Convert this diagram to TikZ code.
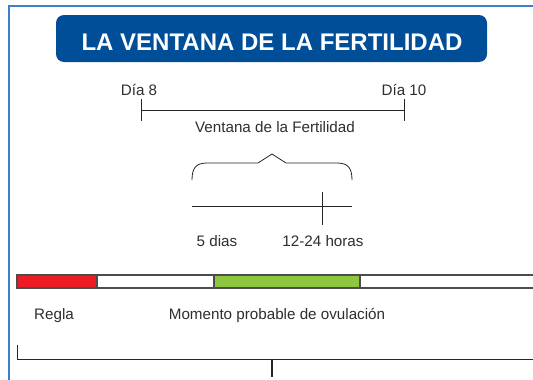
\documentclass[tikz,border=0pt]{standalone}
\usepackage{fontspec}
\setmainfont{Liberation Sans}
\usepackage{xcolor}
\definecolor{vfblue}{HTML}{004E98}
\definecolor{vfframe}{HTML}{3B7DD0}
\definecolor{vfred}{HTML}{ED1C24}
\definecolor{vfgreen}{HTML}{8DC63F}
\definecolor{vftext}{HTML}{2E2E2E}
\usetikzlibrary{positioning,calc}

\begin{document}
\begin{tikzpicture}[x=1pt,y=-1pt,
  lbl/.style={text=vftext,font=\fontsize{15.2}{18}\selectfont,inner sep=0pt,anchor=base},
  rule/.style={draw=black!85,line width=0.9pt},
  seg/.style={draw=black!70,line width=1.2pt}]
\useasboundingbox (0,0) rectangle (533,380);
% marco
\draw[vfframe,line width=1.5pt] (9,381) -- (9,6) -- (534,6);
% titulo
\node[fill=vfblue,rounded corners=8pt,minimum width=431pt,minimum height=47pt,inner sep=0pt] (title) at (271.5,38.5) {};
\node[text=white,font=\bfseries\fontsize{24}{28}\selectfont,inner sep=0pt,anchor=base] (titletext) at (272,50) {LA VENTANA DE LA FERTILIDAD};

% ventana de dias
\node[lbl] (dia8) at (139,95) {Día 8};
\node[lbl] (dia10) at (404,95) {Día 10};
\coordinate (d8) at (141,110);
\coordinate (d10) at (404,110);
\draw[rule] (d8) -- (d10);
\draw[rule] ($(d8)+(0,-11)$) -- ($(d8)+(0,11)$);
\draw[rule] ($(d10)+(0,-11)$) -- ($(d10)+(0,11)$);
\node[lbl] (ventana) at (275,132) {Ventana de la Fertilidad};

% llave
\draw[rule,line width=0.8pt] (192,180) .. controls (192,168) and (196,163) .. (207,163)
  -- (258,163) -- (272,154) -- (286,163) -- (337,163)
  .. controls (348,163) and (352,168) .. (352,180);

% dias y horas
\coordinate (d5) at (192,206);
\coordinate (dend) at (352,206);
\coordinate (h12) at (322,206);
\draw[rule] (d5) -- (dend);
\draw[rule] ($(h12)+(0,-14)$) -- ($(h12)+(0,19)$);
\node[lbl] (cinco) at (217,246) {5 dias};
\node[lbl] (horas) at (323,246) {12-24 horas};

% barra del ciclo
\path[seg,fill=vfred] (17,275) rectangle (97,288);
\path[seg,fill=white] (97,275) rectangle (214,288);
\path[seg,fill=vfgreen] (214,275) rectangle (360,288);
\path[seg,fill=white] (360,275) rectangle (540,288);
\node[lbl] (regla) at (54,319) {Regla};
\node[lbl] (momento) at (277,319) {Momento probable de ovulación};

% corchete inferior
\coordinate (bl) at (17,359);
\coordinate (bm) at (272,359);
\draw[rule] ($(bl)+(0,-14)$) -- (bl) -- (540,359);
\draw[rule,line width=1.6pt] (bm) -- ($(bm)+(0,18)$);
\end{tikzpicture}
\end{document}
